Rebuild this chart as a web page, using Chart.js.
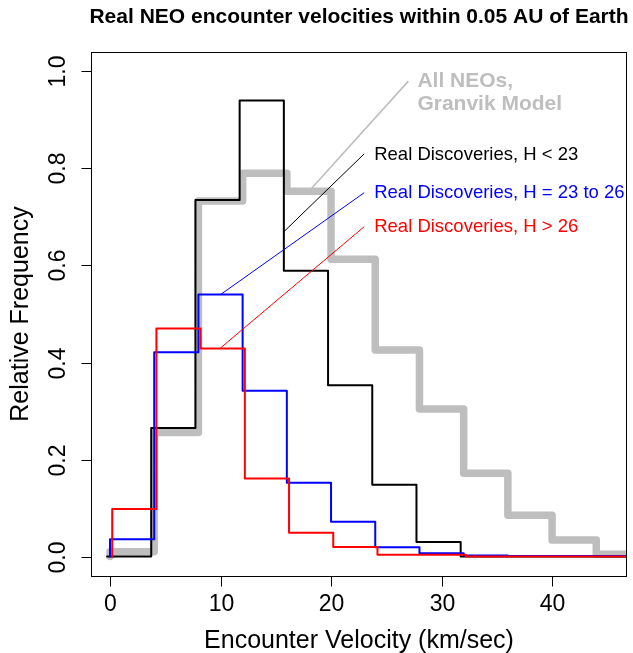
<!DOCTYPE html>
<html>
<head>
<meta charset="utf-8">
<script src="https://cdn.jsdelivr.net/npm/chart.js@4"></script>
<style>
    html, body { margin: 0; padding: 0; background: #fff; }
</style>
</head>
<body>
<canvas id="neoChart" width="633" height="653"></canvas>
<script>
// Histogram bin starts (km/sec), 4 km/sec wide
const velocityBins = [0, 4, 8, 12, 16, 20, 24, 28, 32, 36, 40, 44];
const binEnd = 48;

// Relative frequency per bin
const granvikModel = [0.010, 0.256, 0.733, 0.790, 0.753, 0.613, 0.426, 0.304, 0.172, 0.085, 0.034, 0.005];
const hUnder23     = [0.000, 0.265, 0.735, 0.940, 0.589, 0.353, 0.148, 0.030, 0.000, 0.000, 0.000, 0.000];
const h23to26      = [0.036, 0.421, 0.540, 0.342, 0.152, 0.072, 0.019, 0.007, 0.002, 0.001, 0.001, 0.001];
const hOver26      = [0.098, 0.470, 0.429, 0.161, 0.049, 0.020, 0.004, 0.004, 0.000, 0.000, 0.000, 0.000];

const xTicks = [0, 10, 20, 30, 40];
const yTicks = [0.0, 0.2, 0.4, 0.6, 0.8, 1.0];
const yTickLabels = ['0.0', '0.2', '0.4', '0.6', '0.8', '1.0'];

const titleText = 'Real NEO encounter velocities within 0.05 AU of Earth';
const xTitle = 'Encounter Velocity (km/sec)';
const yTitle = 'Relative Frequency';

// callout labels: text, where the leader line starts, where it ends
const callouts = [
    { lines: ['All NEOs,', 'Granvik Model'], from: [27, 0.98], to: [18, 0.753], color: '#BEBEBE', bold: true },
    { lines: ['Real Discoveries, H < 23'], from: [23, 0.83], to: [15.75, 0.67], color: '#000000' },
    { lines: ['Real Discoveries, H = 23 to 26'], from: [23, 0.75], to: [10, 0.54], color: '#0000FF' },
    { lines: ['Real Discoveries, H > 26'], from: [23, 0.68], to: [10, 0.43], color: '#FF0000' }
];

const FONT = '"Liberation Sans", Arial, Helvetica, sans-serif';

// R style type="s" outline of a histogram, nudged sideways a little
function stepPoints(values, shift) {
    const pts = [{ x: velocityBins[0] + shift, y: 0 }];
    values.forEach((v, i) => pts.push({ x: velocityBins[i] + shift, y: v }));
    pts.push({ x: binEnd + shift, y: values[values.length - 1] });
    return pts;
}

function stepSet(values, shift, color, width) {
    return {
        data: stepPoints(values, shift),
        borderColor: color,
        borderWidth: width,
        stepped: 'before',
        pointRadius: 0,
        borderJoinStyle: 'round',
        borderCapStyle: 'round',
        clip: 0,
        fill: false
    };
}

function leaderSet(c) {
    return {
        data: [{ x: c.from[0], y: c.from[1] }, { x: c.to[0], y: c.to[1] }],
        borderColor: c.color,
        borderWidth: c.bold ? 1.6 : 1,
        pointRadius: 0,
        clip: 0,
        fill: false
    };
}

const rPlotPlugin = {
    id: 'rPlot',
    afterDatasetsDraw(chart) {
        const { ctx, scales: { x, y } } = chart;
        ctx.save();
        callouts.forEach(c => {
            const size = c.bold ? 21 : 18.5;
            ctx.font = (c.bold ? 'bold ' : '') + size + 'px ' + FONT;
            ctx.fillStyle = c.color;
            ctx.textAlign = 'left';
            ctx.textBaseline = 'alphabetic';
            const lineH = c.bold ? 23.5 : 22;
            const px = x.getPixelForValue(c.from[0]) + (c.bold ? 9 : 10);
            let cy = y.getPixelForValue(c.from[1]) - 1;
            if (c.lines.length > 1) cy = y.getPixelForValue(0.96);
            const top = cy - (c.lines.length - 1) * lineH / 2;
            c.lines.forEach((t, i) => {
                ctx.fillText(t, px, top + i * lineH + size * 0.716 / 2);
            });
        });
        ctx.restore();
    },
    afterDraw(chart) {
        const { ctx, chartArea: a, scales: { x, y } } = chart;
        ctx.save();
        ctx.strokeStyle = '#000';
        ctx.lineWidth = 1;
        ctx.strokeRect(Math.round(a.left) + 0.5, Math.round(a.top) + 0.5,
            Math.round(a.right - a.left) - 1, Math.round(a.bottom - a.top));

        ctx.fillStyle = '#000';
        ctx.font = '23px ' + FONT;
        ctx.textAlign = 'center';
        ctx.textBaseline = 'alphabetic';
        const bottom = Math.round(a.bottom) + 0.5;
        xTicks.forEach(v => {
            const px = Math.round(x.getPixelForValue(v)) + 0.5;
            ctx.beginPath();
            ctx.moveTo(px, bottom);
            ctx.lineTo(px, bottom + 10);
            ctx.stroke();
            ctx.fillText(String(v), px, 611);
        });

        const left = Math.round(a.left) + 0.5;
        yTicks.forEach((v, i) => {
            const py = Math.round(y.getPixelForValue(v)) + 0.5;
            ctx.beginPath();
            ctx.moveTo(left, py);
            ctx.lineTo(left - 10, py);
            ctx.stroke();
            ctx.save();
            ctx.translate(65, py);
            ctx.rotate(-Math.PI / 2);
            ctx.fillText(yTickLabels[i], 0, 0);
            ctx.restore();
        });

        ctx.font = '25px ' + FONT;
        const cx = (a.left + a.right) / 2;
        ctx.fillText(xTitle, cx, 648);
        ctx.save();
        ctx.translate(28, (a.top + a.bottom) / 2);
        ctx.rotate(-Math.PI / 2);
        ctx.fillText(yTitle, 0, 0);
        ctx.restore();

        ctx.font = 'bold 21px ' + FONT;
        ctx.fillText(titleText, cx, 22.5);
        ctx.restore();
    }
};

new Chart(document.getElementById('neoChart'), {
    type: 'line',
    data: {
        datasets: [
            ...callouts.map(leaderSet),
            stepSet(hOver26, 0.2, '#FF0000', 2),
            stepSet(h23to26, 0, '#0000FF', 2),
            stepSet(hUnder23, -0.27, '#000000', 2),
            stepSet(granvikModel, 0, '#BEBEBE', 7.5)
        ]
    },
    options: {
        responsive: false,
        devicePixelRatio: 1,
        animation: false,
        parsing: true,
        layout: { padding: { left: 91, top: 52, right: 6, bottom: 77 } },
        scales: {
            x: { type: 'linear', min: -1.72, max: 46.78, display: false },
            y: { type: 'linear', min: -0.04, max: 1.04, display: false }
        },
        plugins: {
            legend: { display: false },
            tooltip: { enabled: false },
            title: { display: false }
        }
    },
    plugins: [rPlotPlugin]
});
</script>
</body>
</html>
